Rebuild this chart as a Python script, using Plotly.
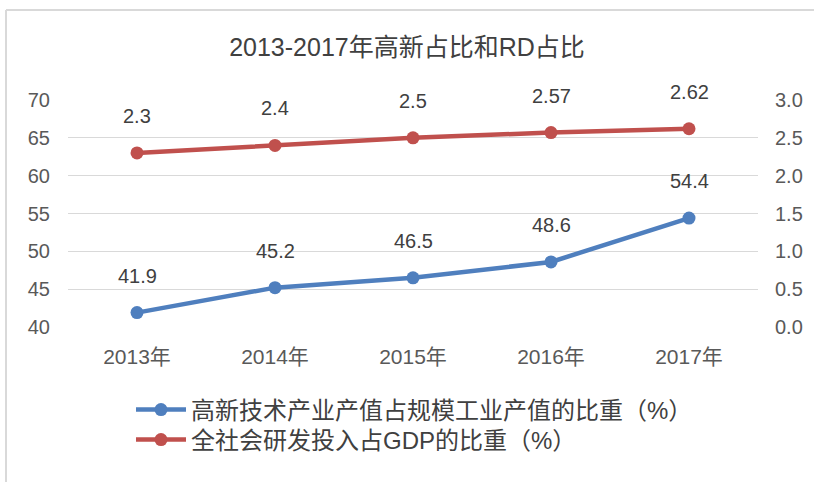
import plotly.graph_objects as go

years = ["2013年", "2014年", "2015年", "2016年", "2017年"]
hitech_share = [41.9, 45.2, 46.5, 48.6, 54.4]
rd_share = [2.3, 2.4, 2.5, 2.57, 2.62]
hitech_name = "高新技术产业产值占规模工业产值的比重（%）"
rd_name = "全社会研发投入占GDP的比重（%）"
title_text = "2013-2017年高新占比和RD占比"

FONT = "Liberation Sans, Noto Sans CJK SC, sans-serif"
BLUE = "#4f7fbe"
RED = "#c0504d"

fig = go.Figure()
fig.add_trace(go.Scatter(
    x=years, y=hitech_share, name=hitech_name, mode="lines+markers",
    line=dict(color=BLUE, width=4.5), marker=dict(size=13, color=BLUE),
    legend="legend", yaxis="y"))
fig.add_trace(go.Scatter(
    x=years, y=rd_share, name=rd_name, mode="lines+markers",
    line=dict(color=RED, width=4.5), marker=dict(size=13, color=RED),
    legend="legend2", yaxis="y2"))

annotations = []
for x, v in zip(years, hitech_share):
    annotations.append(dict(x=x, y=v, xref="x", yref="y", text=str(v),
                            showarrow=False, yshift=37,
                            font=dict(family=FONT, size=20, color="#404040")))
for x, v in zip(years, rd_share):
    annotations.append(dict(x=x, y=v, xref="x", yref="y2", text=str(v),
                            showarrow=False, yshift=37,
                            font=dict(family=FONT, size=20, color="#404040")))

# plot area: x 68..758, y 100..327
L, R, T, B = 68, 758, 100, 327
W, H = R - L, B - T
def px(xp):
    return (xp - L) / W
def py(yp):
    return (B - yp) / H

shapes = [
    dict(type="line", xref="paper", yref="paper", x0=px(6), x1=px(6),
         y0=py(10), y1=py(490), line=dict(color="#d9d9d9", width=2)),
    dict(type="line", xref="paper", yref="paper", x0=px(6), x1=px(820),
         y0=py(10), y1=py(10), line=dict(color="#d9d9d9", width=2)),
]

fig.update_layout(
    width=814, height=482,
    margin=dict(l=L, r=814 - R, t=T, b=482 - B),
    paper_bgcolor="white", plot_bgcolor="white",
    font=dict(family=FONT, size=16, color="#595959"),
    title=dict(text=title_text, x=0.5, xanchor="center", y=1 - 47 / 482,
               yanchor="middle", font=dict(family=FONT, size=25, color="#404040")),
    xaxis=dict(type="category", range=[-0.5, 4.5], showgrid=False,
               showline=False, ticks="", automargin=False,
               tickfont=dict(size=21, color="#595959"), ticklabelstandoff=15),
    yaxis=dict(range=[40, 70], dtick=5, showgrid=True, gridcolor="#d9d9d9",
               gridwidth=1, zeroline=False, showline=False, ticks="",
               automargin=False, ticklabelstandoff=17,
               tickfont=dict(size=20, color="#595959")),
    yaxis2=dict(range=[0, 3], dtick=0.5, tickformat=".1f", overlaying="y",
                side="right", showgrid=False, zeroline=False, showline=False,
                ticks="", automargin=False, ticklabelstandoff=16,
                tickfont=dict(size=20, color="#595959")),
    legend=dict(x=px(131), y=py(410), xanchor="left", yanchor="middle",
                orientation="h", bgcolor="rgba(0,0,0,0)",
                font=dict(size=24, color="#404040"), itemwidth=50),
    legend2=dict(x=px(131), y=py(440), xanchor="left", yanchor="middle",
                 orientation="h", bgcolor="rgba(0,0,0,0)",
                 font=dict(size=24, color="#404040"), itemwidth=50),
    annotations=annotations,
    shapes=shapes,
    showlegend=True,
)

fig.write_html("out.html", config={"displayModeBar": False},
               post_script="document.body.style.margin='0px';document.body.style.padding='0px';")
